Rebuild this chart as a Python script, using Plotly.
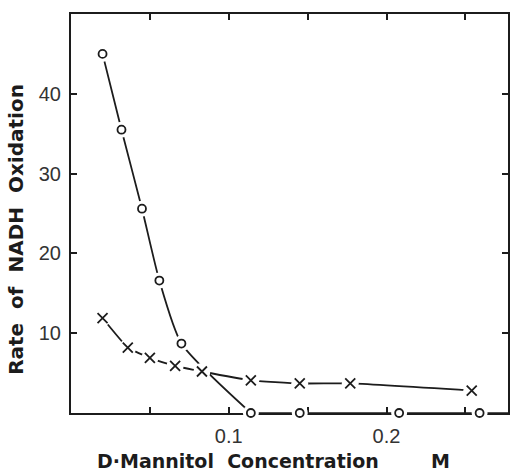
import plotly.graph_objects as go

# Circle series ("o")
o_conc = [0.020, 0.032, 0.045, 0.056, 0.070, 0.114, 0.145, 0.208, 0.259]
o_rate = [45.0, 35.5, 25.6, 16.6, 8.7, 0.0, 0.0, 0.0, 0.0]
o_tail_conc = [0.30]
o_tail_rate = [0.0]

# Cross series ("x")
x_conc = [0.020, 0.036, 0.050, 0.066, 0.083, 0.114, 0.145, 0.177, 0.254]
x_rate = [11.9, 8.2, 6.9, 5.9, 5.2, 4.1, 3.7, 3.7, 2.8]

x_tickvals = [0.05, 0.1, 0.15, 0.2, 0.25]
x_ticktext = ["", "0.1", "", "0.2", ""]
y_tickvals = [10, 20, 30, 40]
y_ticktext = ["10", "20", "30", "40"]

INK = "#1c1c1c"
fig = go.Figure()

# curve of circle series: spline on falling part, straight along zero
n_fall = 6
fig.add_trace(go.Scatter(x=o_conc[:n_fall], y=o_rate[:n_fall], mode="lines", cliponaxis=False,
                         line=dict(color=INK, width=1.8, shape="spline", smoothing=0.6),
                         hoverinfo="skip"))
fig.add_trace(go.Scatter(x=o_conc[n_fall - 1:] + o_tail_conc, y=o_rate[n_fall - 1:] + o_tail_rate,
                         mode="lines", line=dict(color=INK, width=1.6), hoverinfo="skip"))
fig.add_trace(go.Scatter(x=x_conc, y=x_rate, mode="lines",
                         line=dict(color=INK, width=1.8, shape="spline", smoothing=0.4),
                         hoverinfo="skip"))

# white backing to create gaps around symbols
fig.add_trace(go.Scatter(x=o_conc, y=o_rate, mode="markers", cliponaxis=False,
                         marker=dict(symbol="circle", size=16, color="white", line=dict(width=0)),
                         hoverinfo="skip"))
fig.add_trace(go.Scatter(x=x_conc, y=x_rate, mode="markers", cliponaxis=False,
                         marker=dict(symbol="circle", size=17, color="white", line=dict(width=0)),
                         hoverinfo="skip"))

# symbols
fig.add_trace(go.Scatter(x=o_conc, y=o_rate, mode="markers", cliponaxis=False,
                         marker=dict(symbol="circle-open", size=8, color=INK, line=dict(width=1.8, color=INK))))
fig.add_trace(go.Scatter(x=x_conc, y=x_rate, mode="markers", cliponaxis=False,
                         marker=dict(symbol="x-thin-open", size=10, color=INK, line=dict(width=1.8, color=INK))))

axis_common = dict(showline=True, linewidth=2, linecolor=INK, mirror="ticks",
                   ticks="inside", ticklen=6, tickwidth=2, tickcolor=INK,
                   showgrid=False, zeroline=False, layer="below traces",
                   tickfont=dict(family="Liberation Sans", size=20, color="#333333"))

fig.update_layout(
    width=511, height=472,
    margin=dict(l=71, r=1, t=14, b=59),
    paper_bgcolor="white", plot_bgcolor="white",
    showlegend=False,
    xaxis=dict(range=[0, 0.277], tickvals=x_tickvals, ticktext=x_ticktext,
               ticklabelstandoff=4, **axis_common),
    yaxis=dict(range=[0, 50], tickvals=y_tickvals, ticktext=y_ticktext,
               ticklabelstandoff=4, **axis_common),
    annotations=[
        dict(text="<b>Rate  of  NADH  Oxidation</b>", textangle=-90, xref="paper", yref="paper",
             x=-0.125, y=0.46, xanchor="center", yanchor="middle", showarrow=False,
             font=dict(family="DejaVu Sans", size=20, color=INK)),
        dict(text="<b>D·Mannitol  Concentration</b>", xref="paper", yref="paper",
             x=0.055, y=-0.12, xanchor="left", yanchor="middle", showarrow=False,
             font=dict(family="DejaVu Sans", size=19, color=INK)),
        dict(text="<b>M</b>", xref="paper", yref="paper",
             x=0.845, y=-0.12, xanchor="center", yanchor="middle", showarrow=False,
             font=dict(family="DejaVu Sans", size=19, color=INK)),
    ],
)

fig.write_html("out.html")
